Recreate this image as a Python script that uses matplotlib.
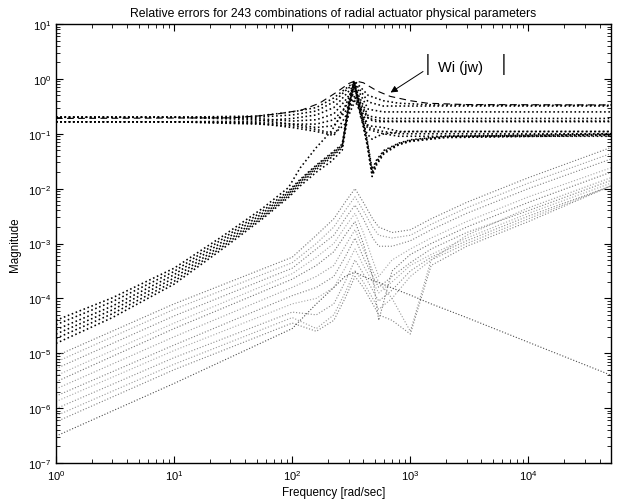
import numpy as np
import matplotlib
matplotlib.use("Agg")
import matplotlib.pyplot as plt
from matplotlib.ticker import NullFormatter, FixedLocator

plt.rcParams['font.family'] = ['Liberation Sans', 'DejaVu Sans']
plt.rcParams['mathtext.default'] = 'regular'

# ---- data (magnitudes as log10 values) ----
# upper family: relative error curves that start near 0.2
w_upper = [1, 10, 50, 100, 160, 225, 280, 340, 440, 590, 800, 1600, 1e4, 5e4]
upper_curves = [
    [0.20, 0.20, 0.21, 0.25, 0.30, 0.45, 0.65, 0.90, 0.50, 0.40, 0.36, 0.335, 0.33, 0.33],
    [0.20, 0.20, 0.20, 0.22, 0.26, 0.38, 0.60, 0.85, 0.38, 0.32, 0.32, 0.32, 0.32, 0.32],
    [0.165, 0.165, 0.17, 0.19, 0.22, 0.30, 0.50, 0.80, 0.28, 0.25, 0.25, 0.25, 0.25, 0.25],
    [0.20, 0.20, 0.19, 0.17, 0.18, 0.23, 0.40, 0.70, 0.21, 0.19, 0.19, 0.19, 0.19, 0.19],
    [0.165, 0.165, 0.16, 0.15, 0.15, 0.18, 0.30, 0.60, 0.19, 0.17, 0.17, 0.17, 0.17, 0.17],
    [0.20, 0.20, 0.18, 0.15, 0.13, 0.14, 0.25, 0.50, 0.14, 0.13, 0.11, 0.11, 0.11, 0.11],
    [0.165, 0.165, 0.155, 0.13, 0.11, 0.093, 0.20, 0.45, 0.13, 0.11, 0.10, 0.10, 0.10, 0.10],
    [0.165, 0.165, 0.15, 0.14, 0.12, 0.10, 0.15, 0.40, 0.12, 0.10, 0.09, 0.09, 0.09, 0.09],
]

# rising family (black), starts around 2e-5 at 1 rad/s
w_rise = [1, 3, 10, 26, 56, 93, 117, 160, 215, 265, 300, 335, 380, 430, 475, 520, 600, 800, 1000, 2000, 5e4]
rise_curves = [
    [-4.40, -3.99, -3.45, -2.86, -2.36, -1.98, -1.62, -1.25, -0.95, -0.62, -0.35, -0.07, -0.50, -0.70, -0.76, -0.78, -0.78, -0.78, -0.78, -0.78, -0.78],
    [-4.48, -4.06, -3.51, -2.91, -2.41, -2.04, -1.83, -1.57, -1.35, -1.19, -0.45, -0.05, -0.55, -1.10, -1.65, -1.47, -1.30, -1.17, -1.11, -1.04, -1.00],
    [-4.57, -4.14, -3.57, -2.96, -2.45, -2.07, -1.85, -1.59, -1.37, -1.21, -0.48, -0.06, -0.58, -1.13, -1.70, -1.50, -1.32, -1.18, -1.12, -1.05, -1.01],
    [-4.65, -4.21, -3.63, -3.01, -2.49, -2.10, -1.88, -1.62, -1.40, -1.23, -0.52, -0.08, -0.62, -1.17, -1.74, -1.53, -1.34, -1.19, -1.13, -1.06, -1.02],
    [-4.73, -4.28, -3.69, -3.05, -2.52, -2.13, -1.91, -1.65, -1.43, -1.25, -0.55, -0.10, -0.66, -1.20, -1.78, -1.56, -1.36, -1.20, -1.14, -1.07, -1.03],
    [-4.82, -4.35, -3.74, -3.09, -2.55, -2.16, -1.95, -1.70, -1.50, -1.30, -0.60, -0.12, -0.70, -1.00, -1.10, -1.05, -1.00, -0.97, -0.96, -0.96, -0.96],
]

# lower family (grey), starts between 3e-7 and 1e-5
w_low = [1, 10, 100, 160, 225, 280, 340, 400, 480, 540, 700, 1000, 1500, 3000, 1e4, 5e4]
low_curves = [
    [-5.05, -4.10, -3.25, -2.85, -2.55, -2.25, -2.00, -2.25, -2.55, -2.70, -2.80, -2.75, -2.55, -2.25, -1.80, -1.25],
    [-5.16, -4.20, -3.35, -3.00, -2.70, -2.40, -2.15, -2.40, -2.70, -2.85, -2.90, -2.85, -2.65, -2.35, -1.90, -1.36],
    [-5.28, -4.32, -3.45, -3.10, -2.85, -2.55, -2.30, -2.55, -2.90, -3.05, -3.05, -2.95, -2.75, -2.45, -2.00, -1.46],
    [-5.41, -4.45, -3.55, -3.25, -3.00, -2.70, -2.45, -2.80, -3.30, -3.60, -3.30, -3.10, -2.90, -2.60, -2.15, -1.62],
    [-5.52, -4.55, -3.65, -3.40, -3.15, -2.85, -2.60, -3.00, -3.60, -4.40, -3.50, -3.20, -3.00, -2.70, -2.25, -1.70],
    [-5.65, -4.70, -3.80, -3.60, -3.40, -3.05, -2.75, -3.10, -3.50, -3.70, -4.00, -4.60, -3.30, -2.85, -2.35, -1.80],
    [-5.78, -4.85, -3.95, -3.80, -3.60, -3.25, -2.90, -3.25, -3.60, -3.80, -3.60, -3.35, -3.10, -2.80, -2.40, -1.85],
    [-5.88, -4.95, -4.10, -4.00, -3.80, -3.45, -3.10, -3.40, -3.70, -3.90, -3.70, -3.40, -3.20, -2.90, -2.45, -1.90],
    [-6.01, -5.08, -4.25, -4.30, -4.10, -3.70, -3.30, -3.55, -3.85, -4.05, -3.85, -3.50, -3.25, -2.95, -2.50, -1.95],
    [-6.14, -5.20, -4.35, -4.55, -4.30, -3.90, -3.50, -3.70, -4.00, -4.20, -4.00, -3.60, -3.30, -3.00, -2.55, -1.95],
    [-6.25, -5.30, -4.45, -4.60, -4.40, -4.00, -3.60, -3.80, -4.10, -4.30, -4.40, -4.65, -3.40, -3.05, -2.60, -1.95],
    [-6.51, -5.55, -4.55, -4.10, -3.80, -3.60, -3.52, -3.60, -3.67, -3.71, -3.81, -3.94, -4.10, -4.35, -4.80, -5.40],
]
low_colors = ['0.45', '0.6', '0.5', '0.65', '0.45', '0.6', '0.5', '0.65', '0.55', '0.6', '0.5', '0.3']

# weighting function |Wi(jw)| (dashed)
w_wi = [1, 30, 50, 75, 120, 170, 240, 300, 340, 400, 525, 675, 1000, 1400, 3000, 5e4]
wi_mag = [0.19, 0.195, 0.21, 0.23, 0.27, 0.36, 0.58, 0.82, 0.92, 0.85, 0.60, 0.48, 0.40, 0.36, 0.34, 0.335]

x_decades = [1, 10, 100, 1e3, 1e4]
y_decades = [1e-7, 1e-6, 1e-5, 1e-4, 1e-3, 1e-2, 1e-1, 1, 10]

fig = plt.figure(figsize=(6.31, 5.02), dpi=100)
ax = fig.add_axes([56 / 631, 38 / 502, 555 / 631, 439 / 502])

for c, col in zip(low_curves, low_colors):
    ax.loglog(w_low, 10 ** np.array(c), ls=':', color=col, lw=0.8)
for c in upper_curves:
    ax.loglog(w_upper, c, 'k:', lw=1.15)
for c in rise_curves:
    ax.loglog(w_rise, 10 ** np.array(c), 'k:', lw=1.15)
ax.loglog(w_wi, wi_mag, 'k', ls=(0, (6, 4)), lw=0.8)

ax.set_xlim(1, 5e4)
ax.set_ylim(1e-7, 10)
ax.set_xticks(x_decades)
ax.set_yticks(y_decades)
x_minor = [d * m for d in x_decades for m in range(2, 10) if d * m <= 5e4]
y_minor = [d * m for d in y_decades[:-1] for m in range(2, 10)]
ax.xaxis.set_minor_locator(FixedLocator(x_minor))
ax.yaxis.set_minor_locator(FixedLocator(y_minor))
ax.xaxis.set_minor_formatter(NullFormatter())
ax.yaxis.set_minor_formatter(NullFormatter())
ax.tick_params(which='both', direction='in', top=True, right=True, labelsize=8)
ax.tick_params(which='major', length=5, width=0.8)
ax.tick_params(which='minor', length=3, width=0.6)
for s in ax.spines.values():
    s.set_linewidth(1.0)

ax.set_title('Relative errors for 243 combinations of radial actuator physical parameters',
             fontsize=8.8, pad=6)
ax.set_xlabel('Frequency [rad/sec]', fontsize=8.4, labelpad=3)
ax.set_ylabel('Magnitude', fontsize=8.4, labelpad=5)

# label for the weighting function
ax.text(1700, 1.65, 'Wi (jw)', fontsize=10.5, va='center', ha='left')
ax.text(1400, 1.9, '|', fontsize=16, va='center', ha='center', color='0.25')
ax.text(6150, 1.9, '|', fontsize=16, va='center', ha='center', color='0.25')
ax.annotate('', xy=(650, 0.53), xytext=(1340, 1.45),
            arrowprops=dict(arrowstyle='-|>', color='k', lw=0.7, mutation_scale=10))

fig.savefig('out.png', dpi=100)
